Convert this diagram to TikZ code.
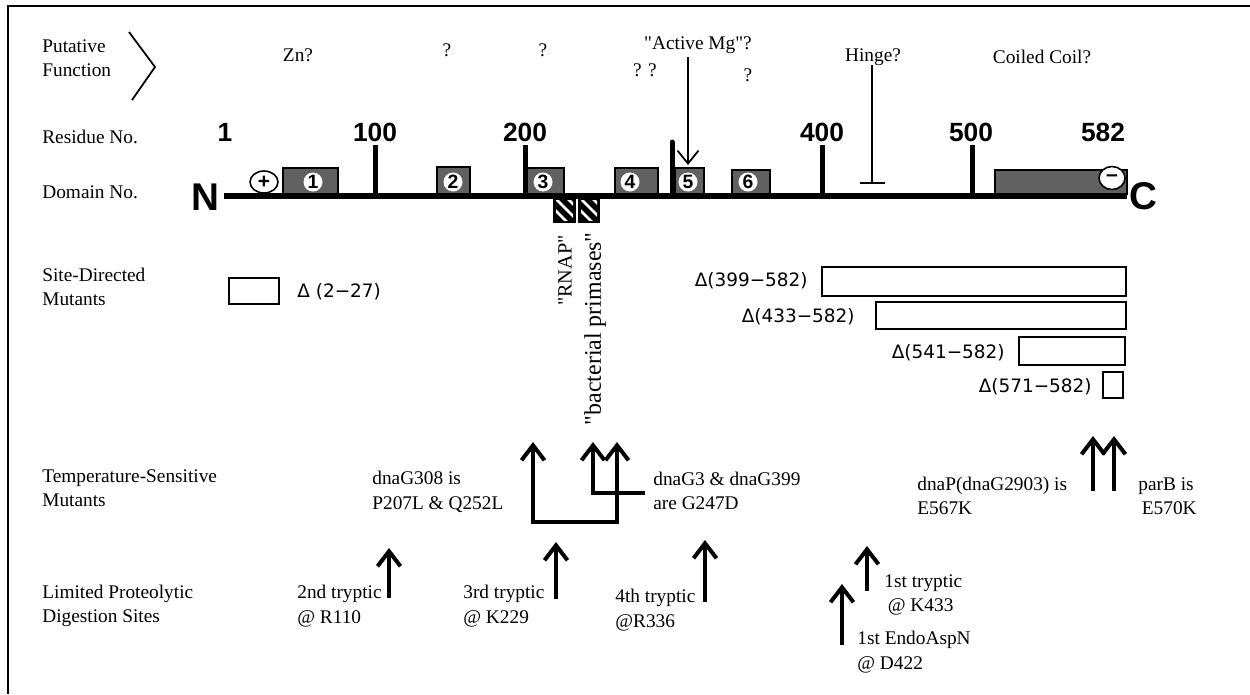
\documentclass[tikz,border=0pt]{standalone}
\usepackage{fontspec}
\setmainfont{Liberation Serif}
\newfontfamily\timesfont{Liberation Serif}
\newfontfamily\arialfont{Liberation Sans}
\newfontfamily\dejafont{DejaVu Sans}
\usetikzlibrary{arrows.meta, shapes.geometric}

\tikzset{
  barb/.tip={Straight Barb[length=0.3cm, width=0.46cm]},
  thinbarb/.tip={Straight Barb[length=0.26cm, width=0.42cm]},
  lbl/.style={font=\timesfont\fontsize{11}{14}\selectfont, inner sep=0pt},
  rowlbl/.style={lbl, anchor=west, align=left},
  vertlbl/.style={inner sep=0pt, rotate=90, anchor=east},
  resnum/.style={font=\arialfont\bfseries\fontsize{15}{15}\selectfont, inner sep=0pt},
  endlbl/.style={font=\arialfont\bfseries\fontsize{22}{22}\selectfont, inner sep=0pt},
  dombox/.style={draw=black, line width=0.9pt, fill=black!62},
  domnum/.style={circle, fill=white, inner sep=0pt, minimum size=0.38cm,
    font=\arialfont\bfseries\fontsize{11}{11}\selectfont},
  charge/.style={ellipse, draw=black, line width=0.9pt, fill=white, inner sep=0pt,
    font=\arialfont\bfseries\fontsize{12}{12}\selectfont},
  delbox/.style={draw=black, line width=1.2pt},
  dellbl/.style={font=\dejafont\fontsize{10.5}{12}\selectfont, inner sep=0pt},
  restick/.style={line width=0.1cm},
  bigline/.style={line width=0.08cm},
  thinline/.style={line width=0.035cm},
}

\begin{document}
\begin{tikzpicture}[x=0.02cm, y=-0.02cm]
  \useasboundingbox (0,0) rectangle (1250,694);
  % frame (only top and left edges show)
  \draw[line width=0.04cm] (8,694) -- (8,6) -- (1250,6);

  % row titles
  \node[rowlbl] (rowfun) at (42,58)  {Putative\\Function};
  \node[rowlbl] (rowres) at (42,137) {Residue No.};
  \node[rowlbl] (rowdom) at (42,192) {Domain No.};
  \node[rowlbl] (rowsdm) at (42,287) {Site-Directed\\Mutants};
  \node[rowlbl] (rowtsm) at (42,488) {Temperature-Sensitive\\Mutants};
  \node[rowlbl] (rowlpd) at (42,606) {Limited Proteolytic\\Digestion Sites};
  \draw[thinline] (129,32) -- (155,67) -- (132,100);

  % putative functions
  \node[lbl] (zn)    at (298,55)  {Zn?};
  \node[lbl] (qa)    at (447,50)  {?};
  \node[lbl] (qb)    at (543,50)  {?};
  \node[lbl] (qc)    at (645,70)  {? ?};
  \node[lbl] (qd)    at (748,75)  {?};
  \node[lbl] (mg)    at (698,45)  {"Active Mg"?};
  \node[lbl] (hinge) at (873,57)  {Hinge?};
  \node[lbl] (coil)  at (1042,57) {Coiled Coil?};

  % domain boxes
  \foreach \n/\xa/\xb/\yt/\cx in {1/283/338/168/313, 2/437/470/167/453, 3/525/564/168/543,
                                  4/615/658/168/630, 5/675/704/168/688, 6/732/770/170/748} {
    \draw[dombox] (\xa,\yt) rectangle (\xb,194);
    \node[domnum] (dom\n) at (\cx,182) {\n};
  }
  \draw[dombox] (995,170) rectangle (1127,194);
  \node[charge, minimum width=0.56cm, minimum height=0.44cm] (plus) at (264,182) {+};
  \node[charge, minimum width=0.52cm, minimum height=0.46cm] (minus) at (1112,178) {–};

  % hatched boxes below the chain
  \foreach \xa/\xb in {553/576, 578/600} {
    \fill[black] (\xa,197) rectangle (\xb,223);
    \begin{scope}
      \clip (\xa+3,200) rectangle (\xb-3,220);
      \foreach \o in {-12,0,12}
        \draw[white, line width=0.05cm] (\xa+\o,196) -- (\xa+\o+30,226);
    \end{scope}
  }

  % chain and residue ticks
  \coordinate (nterm) at (224,196);
  \coordinate (cterm) at (1127,196);
  \draw[line width=0.12cm] (nterm) -- (cterm);
  \node[endlbl] (nlbl) at (205,197) {N};
  \node[endlbl] (clbl) at (1143,196) {C};
  \foreach \xx in {375,525,822,972}
    \draw[restick] (\xx,196) -- (\xx,145);
  \draw[restick, line cap=round] (672,196) -- (672,142);
  \foreach \lab/\xx in {1/225, 100/375, 200/525, 400/822, 500/971, 582/1103}
    \node[resnum] (res\lab) at (\xx,132) {\lab};

  % Mg arrow and hinge
  \coordinate (mgtop) at (688,57);
  \coordinate (mgtip) at (688,165);
  \draw[thinline, -thinbarb] (mgtop) -- (mgtip);
  \coordinate (hingetop) at (872,65);
  \coordinate (hingefoot) at (872,183);
  \draw[thinline] (hingetop) -- (hingefoot);
  \draw[thinline] ([xshift=-0.24cm]hingefoot) -- ([xshift=0.26cm]hingefoot);

  % motif labels
  \node[vertlbl, font=\timesfont\fontsize{11.5}{14}\selectfont] (rnap) at (565,235) {"RNAP"};
  \node[vertlbl, font=\timesfont\fontsize{13.6}{15}\selectfont] (bacp) at (595,232) {"bacterial primases"};

  % site-directed mutants
  \draw[delbox] (229,278) rectangle (279,304);
  \node[dellbl, anchor=west] (d227) at (297,292) {Δ (2−27)};
  \draw[delbox] (822,267) rectangle (1126,296);
  \node[dellbl, anchor=east] (d399) at (808,281) {Δ(399−582)};
  \draw[delbox] (876,302) rectangle (1126,329);
  \node[dellbl, anchor=east] (d433) at (855,317) {Δ(433−582)};
  \draw[delbox] (1019,337) rectangle (1125,365);
  \node[dellbl, anchor=east] (d541) at (1005,353) {Δ(541−582)};
  \draw[delbox] (1103,372) rectangle (1123,398);
  \node[dellbl, anchor=east] (d571) at (1092,387) {Δ(571−582)};

  % temperature-sensitive mutants
  \coordinate (p207) at (533,442);
  \coordinate (q252) at (617,442);
  \coordinate (g247) at (593,442);
  \coordinate (g247foot) at (645,493);
  \draw[bigline, barb-barb] (p207) -- (533,522) -- (617,522) -- (q252);
  \draw[bigline, -barb] (g247foot) -- (593,493) -- (g247);
  \node[rowlbl] (ts308) at (372,492) {dnaG308 is\\P207L \& Q252L};
  \node[rowlbl] (ts399) at (653,491) {dnaG3 \& dnaG399\\are G247D};
  \foreach \nm/\xx in {e567/1093, e570/1114} {
    \coordinate (\nm-base) at (\xx,491);
    \coordinate (\nm-tip) at (\xx,436);
    \draw[bigline, -barb] (\nm-base) -- (\nm-tip);
  }
  \node[rowlbl] (ts2903) at (917,496) {dnaP(dnaG2903) is\\E567K};
  \node[rowlbl] (tsparb) at (1138,496) {parB is\\\hspace*{2pt}E570K};

  % proteolytic sites
  \foreach \nm/\xx/\ya/\yb in {r110/389/598/548, k229/556/599/542, r336/705/602/540,
                               k433/867/591/546, d422/842/645/584} {
    \coordinate (\nm-base) at (\xx,\ya);
    \coordinate (\nm-tip) at (\xx,\yb);
    \draw[bigline, -barb] (\nm-base) -- (\nm-tip);
  }
  \node[rowlbl] (t110) at (297,606) {2nd tryptic\\@ R110};
  \node[rowlbl] (t229) at (463,606) {3rd tryptic\\@ K229};
  \node[rowlbl] (t336) at (615,610) {4th tryptic\\@R336};
  \node[rowlbl] (t433) at (884,595) {1st tryptic\\\hspace*{2pt}@ K433};
  \node[rowlbl] (t422) at (857,652) {1st EndoAspN\\@ D422};
\end{tikzpicture}
\end{document}
